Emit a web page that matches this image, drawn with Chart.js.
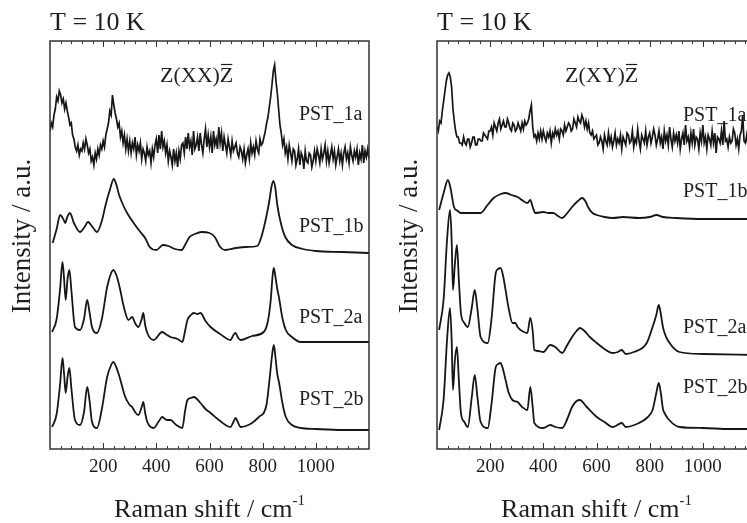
<!doctype html>
<html lang="en">
<head>
<meta charset="UTF-8">
<title>Raman spectra, T = 10 K</title>
<script src="https://cdn.jsdelivr.net/npm/chart.js"></script>
<style>
  html, body { margin: 0; padding: 0; background: #fff; overflow: hidden; }
  canvas { position: absolute; top: 0; }
  #chartXX { left: 0; }
  #chartXY { left: 387px; }
</style>
</head>
<body>
<canvas id="chartXX" width="380" height="523"></canvas>
<canvas id="chartXY" width="380" height="523"></canvas>
<script>
// sampling grid of the noisy PST_1a traces (cm-1), 5 cm-1 steps
const noisyShift = Array.from({length: 241}, (_, i) => i * 5);

// ---- Z(XX)Z panel, stacked intensities (a.u.) ----
const xxPST1a = [
  318,326,322,334,340,352,348,358,354,346,350,340,346,338,332,324,326,314,310,302,
  298,304,294,300,298,306,300,310,304,296,300,288,292,284,296,290,300,294,304,300,
  308,302,314,320,326,338,334,354,344,336,330,322,326,312,318,306,314,300,310,298,
  308,296,306,300,312,294,304,298,306,290,300,296,288,302,294,298,286,300,292,304,
  310,296,314,300,318,302,308,296,304,288,298,292,284,300,288,296,282,298,290,304,
  306,296,312,300,316,302,308,294,318,300,304,312,298,316,304,296,310,320,302,314,
  302,312,296,318,304,310,300,322,306,316,298,312,304,296,310,302,294,308,298,302,
  306,296,292,302,298,290,300,286,294,300,290,306,296,302,294,308,300,296,310,304,
  306,312,318,326,332,342,352,364,378,384,368,356,340,324,316,304,310,296,302,290,
  304,296,288,300,298,284,290,300,284,296,292,280,298,288,286,296,294,282,288,298,
  288,300,294,286,300,290,296,304,288,298,286,294,302,290,298,284,292,300,288,296,
  284,296,302,290,296,286,302,294,288,298,292,300,284,296,290,304,286,298,292,300,
  290];
const xxPST1b = [[10,206],[25,220],[38,234],[50,230],[57,226],[65,232],[75,236],[90,226],[113,217],[130,222],
  [143,227],[160,222],[177,217],[195,228],[210,245],[225,259],[240,270],[250,264],[260,254],[275,244],
  [290,236],[320,224],[340,217],[360,210],[375,202],[400,199],[425,204],[445,203],[470,200],[495,199],
  [510,205],[525,212],[545,215],[570,217],[600,216],[620,212],[640,202],[660,199],[700,201],[740,202],
  [780,203],[795,212],[805,222],[815,234],[825,248],[833,262],[840,268],[847,262],[855,244],[870,224],
  [885,212],[910,204],[950,200],[1000,198],[1100,197],[1200,196]];
const xxPST2a = [[8,117],[25,130],[38,160],[47,187],[53,170],[59,149],[66,170],[73,179],[80,160],[94,122],
  [113,119],[128,130],[140,149],[148,138],[158,122],[177,116],[195,130],[215,162],[230,176],[238,179],
  [252,172],[265,158],[276,144],[295,129],[309,132],[320,126],[332,122],[345,130],[351,136],[358,124],
  [366,116],[390,109],[422,117],[440,114],[453,112],[480,110],[498,107],[508,118],[517,129],[530,134],
  [541,136],[555,135],[566,136],[585,128],[604,122],[640,115],[679,109],[690,114],[698,116],[706,112],
  [717,109],[760,113],[804,117],[819,127],[830,148],[838,175],[842,181],[847,174],[855,160],[861,152],
  [875,130],[887,119],[910,112],[943,107],[1000,107],[1200,107]];
const xxPST2b = [[8,22],[25,35],[38,65],[47,91],[53,75],[59,56],[66,72],[73,81],[80,62],[94,29],
  [113,24],[128,37],[140,62],[148,50],[158,27],[177,21],[195,40],[215,72],[230,84],[238,87],
  [257,76],[270,64],[283,52],[300,44],[309,42],[320,37],[332,34],[345,42],[351,47],[358,36],
  [366,27],[390,21],[410,28],[422,32],[440,29],[453,29],[475,24],[498,21],[508,38],[517,49],
  [530,51],[541,52],[566,46],[585,40],[604,36],[640,28],[679,22],[690,27],[698,31],[708,26],
  [717,22],[760,26],[790,33],[804,36],[815,45],[826,70],[836,95],[842,104],[848,92],[855,75],
  [862,66],[875,45],[887,32],[910,24],[943,21],[1000,20],[1100,19],[1200,19]];

// ---- Z(XY)Z panel ----
const xyPST1a = [
  322,318,328,326,338,348,358,368,374,376,372,362,340,328,318,312,312,306,306,304,
  312,306,304,310,310,302,306,312,312,304,304,310,310,308,308,316,314,312,310,318,
  318,322,314,326,322,318,326,330,320,324,328,322,322,330,326,320,318,326,324,318,
  320,326,322,318,326,320,328,324,326,330,338,344,322,312,314,308,316,310,318,310,
  318,312,308,316,312,318,306,316,312,320,314,318,310,320,318,314,324,318,322,326,
  324,318,320,330,326,322,332,328,326,334,330,322,328,320,326,316,314,318,310,312,
  314,304,306,312,308,300,314,308,304,316,306,312,302,308,316,304,310,306,314,300,
  312,308,304,316,314,306,308,318,302,310,306,320,308,300,314,310,306,318,304,312,
  316,306,312,320,314,304,310,318,306,312,300,318,308,314,304,322,310,302,316,308,
  314,306,318,300,310,316,304,324,308,312,302,316,306,320,304,312,310,300,316,308,
  324,306,312,300,314,310,304,318,306,316,296,312,310,306,318,304,328,308,310,302,
  312,306,308,320,316,304,310,300,314,318,334,308,306,314,304,316,308,312,310,306,
  312];
const xyPST1b = [[8,239],[25,256],[41,269],[50,262],[64,242],[78,238],[90,236],[120,236],[164,236],[190,244],
  [213,251],[240,255],[258,256],[280,254],[303,252],[325,248],[340,246],[351,249],[360,242],[370,236],
  [400,237],[420,236],[437,236],[455,233],[471,231],[490,236],[508,242],[530,248],[546,251],[560,247],
  [568,242],[585,236],[601,234],[630,232],[662,231],[700,232],[760,231],[800,232],[826,234],[850,232],
  [900,231],[1000,230],[1100,230],[1200,230]];
const xyPST2a = [[8,119],[25,150],[38,210],[49,239],[55,210],[60,159],[67,184],[75,204],[82,170],[90,136],
  [103,126],[116,122],[130,140],[142,159],[152,140],[164,112],[191,106],[205,130],[221,176],[230,180],
  [239,181],[248,174],[258,159],[270,140],[284,126],[295,126],[303,122],[320,118],[340,116],[351,131],
  [360,118],[366,99],[380,98],[400,97],[426,104],[445,102],[471,96],[490,104],[508,112],[525,118],
  [538,121],[555,118],[575,112],[601,106],[630,100],[662,96],[680,97],[695,99],[710,95],[740,97],
  [789,106],[811,122],[825,134],[834,144],[840,138],[850,122],[856,116],[870,108],[912,97],[1000,95],[1200,94]];
const xyPST2b = [[8,19],[25,50],[38,110],[49,141],[55,110],[60,59],[67,88],[75,102],[82,70],[90,36],
  [103,27],[116,22],[130,50],[142,74],[152,52],[164,27],[191,21],[205,45],[221,82],[230,85],
  [239,86],[248,80],[258,69],[270,56],[284,49],[303,47],[320,42],[340,39],[351,62],[360,42],
  [366,26],[400,21],[426,24],[445,22],[471,21],[490,30],[508,42],[525,48],[538,49],[560,43],
  [601,32],[630,27],[662,22],[695,26],[710,22],[760,26],[789,31],[811,39],[825,56],[834,66],
  [842,56],[850,40],[856,36],[870,30],[912,22],[1000,21],[1100,20],[1200,20]];

const sampleNames = ['PST_1a', 'PST_1b', 'PST_2a', 'PST_2b'];
const tickLabels = [200, 400, 600, 800, 1000];

const SERIF = "'Liberation Serif', 'Times New Roman', serif";
const INK = '#161616';

// frame with inward ticks on top and bottom (minor every 40, major every 200)
const framePlugin = {
  id: 'frame',
  afterDatasetsDraw(chart) {
    const {ctx, chartArea: a, scales: {x}} = chart;
    ctx.save();
    ctx.strokeStyle = '#333';
    ctx.lineWidth = 1.5;
    ctx.strokeRect(a.left, a.top, a.right - a.left, a.bottom - a.top);
    ctx.lineWidth = 1;
    for (let v = 40; v < 1200; v += 40) {
      const px = Math.round(x.getPixelForValue(v)) + 0.5;
      const len = v % 200 === 0 ? 6 : 3;
      ctx.beginPath();
      ctx.moveTo(px, a.bottom); ctx.lineTo(px, a.bottom - len);
      ctx.moveTo(px, a.top); ctx.lineTo(px, a.top + len);
      ctx.stroke();
    }
    ctx.restore();
  }
};

// texts: temperature, geometry, sample names, axis titles
const textPlugin = {
  id: 'texts',
  afterDraw(chart, args, opts) {
    const {ctx, chartArea: a} = chart;
    ctx.save();
    ctx.fillStyle = '#1e1e1e';
    ctx.strokeStyle = '#1e1e1e';
    ctx.textBaseline = 'alphabetic';

    ctx.font = '26px ' + SERIF;
    ctx.textAlign = 'left';
    ctx.fillText('T = 10 K', a.left, 30);

    // Z(..)Z with bar over the last Z
    ctx.font = '22px ' + SERIF;
    const head = 'Z(' + opts.geometry + ')';
    ctx.fillText(head, opts.geoX, 82);
    const w1 = ctx.measureText(head).width;
    ctx.fillText('Z', opts.geoX + w1, 82);
    const wz = ctx.measureText('Z').width;
    ctx.lineWidth = 1.2;
    ctx.beginPath();
    ctx.moveTo(opts.geoX + w1 + 1, 64.5);
    ctx.lineTo(opts.geoX + w1 + wz - 1, 64.5);
    ctx.stroke();

    ctx.font = '20px ' + SERIF;
    sampleNames.forEach((n, i) => ctx.fillText(n, a.right - opts.nameDx, opts.nameY[i]));

    // x title with superscript
    ctx.font = '26px ' + SERIF;
    const main = 'Raman shift / cm';
    const wm = ctx.measureText(main).width;
    ctx.font = '15px ' + SERIF;
    const ws = ctx.measureText('-1').width;
    const x0 = (a.left + a.right) / 2 - (wm + ws) / 2;
    ctx.font = '26px ' + SERIF;
    ctx.fillText(main, x0, 517);
    ctx.font = '15px ' + SERIF;
    ctx.fillText('-1', x0 + wm, 505);

    // y title
    ctx.font = '27px ' + SERIF;
    ctx.translate(a.left - 27, 236);
    ctx.rotate(-Math.PI / 2);
    ctx.textAlign = 'center';
    ctx.textBaseline = 'middle';
    ctx.fillText('Intensity / a.u.', 0, 0);
    ctx.restore();
  }
};

function smooth(pairs) {
  return pairs.map(([x, y]) => ({x, y}));
}
function noisy(values) {
  return values.map((y, i) => ({x: noisyShift[i], y}));
}

function makeChart(id, traces, texts) {
  const ctx = document.getElementById(id).getContext('2d');
  return new Chart(ctx, {
    type: 'line',
    data: {
      datasets: traces.map((t, i) => ({
        label: sampleNames[i],
        data: t.data,
        borderColor: INK,
        borderWidth: t.noisy ? 1.7 : 1.8,
        pointRadius: 0,
        fill: false,
        cubicInterpolationMode: t.noisy ? 'default' : 'monotone',
        tension: t.noisy ? 0 : 0.4
      }))
    },
    options: {
      responsive: false,
      animation: false,
      layout: {padding: {left: 50, right: 11, top: 41, bottom: 0}},
      plugins: {
        legend: {display: false},
        tooltip: {enabled: false},
        texts: texts
      },
      scales: {
        x: {
          type: 'linear',
          min: 0,
          max: 1200,
          grid: {display: false, drawTicks: false},
          border: {display: false},
          ticks: {
            stepSize: 50,
            autoSkip: false,
            maxRotation: 0,
            padding: 7,
            color: '#1e1e1e',
            font: {family: SERIF, size: 19},
            callback: v => tickLabels.includes(v) ? String(v) : ''
          },
          afterFit(scale) { scale.height = 74; }
        },
        y: {display: false, min: 0, max: 408}
      }
    },
    plugins: [framePlugin, textPlugin]
  });
}

makeChart('chartXX', [
  {data: noisy(xxPST1a), noisy: true},
  {data: smooth(xxPST1b)},
  {data: smooth(xxPST2a)},
  {data: smooth(xxPST2b)}
], {geometry: 'XX', geoX: 160, nameDx: 70, nameY: [120, 232, 323, 405]});

makeChart('chartXY', [
  {data: noisy(xyPST1a), noisy: true},
  {data: smooth(xyPST1b)},
  {data: smooth(xyPST2a)},
  {data: smooth(xyPST2b)}
], {geometry: 'XY', geoX: 178, nameDx: 73, nameY: [121, 197, 333, 393]});
</script>
</body>
</html>
